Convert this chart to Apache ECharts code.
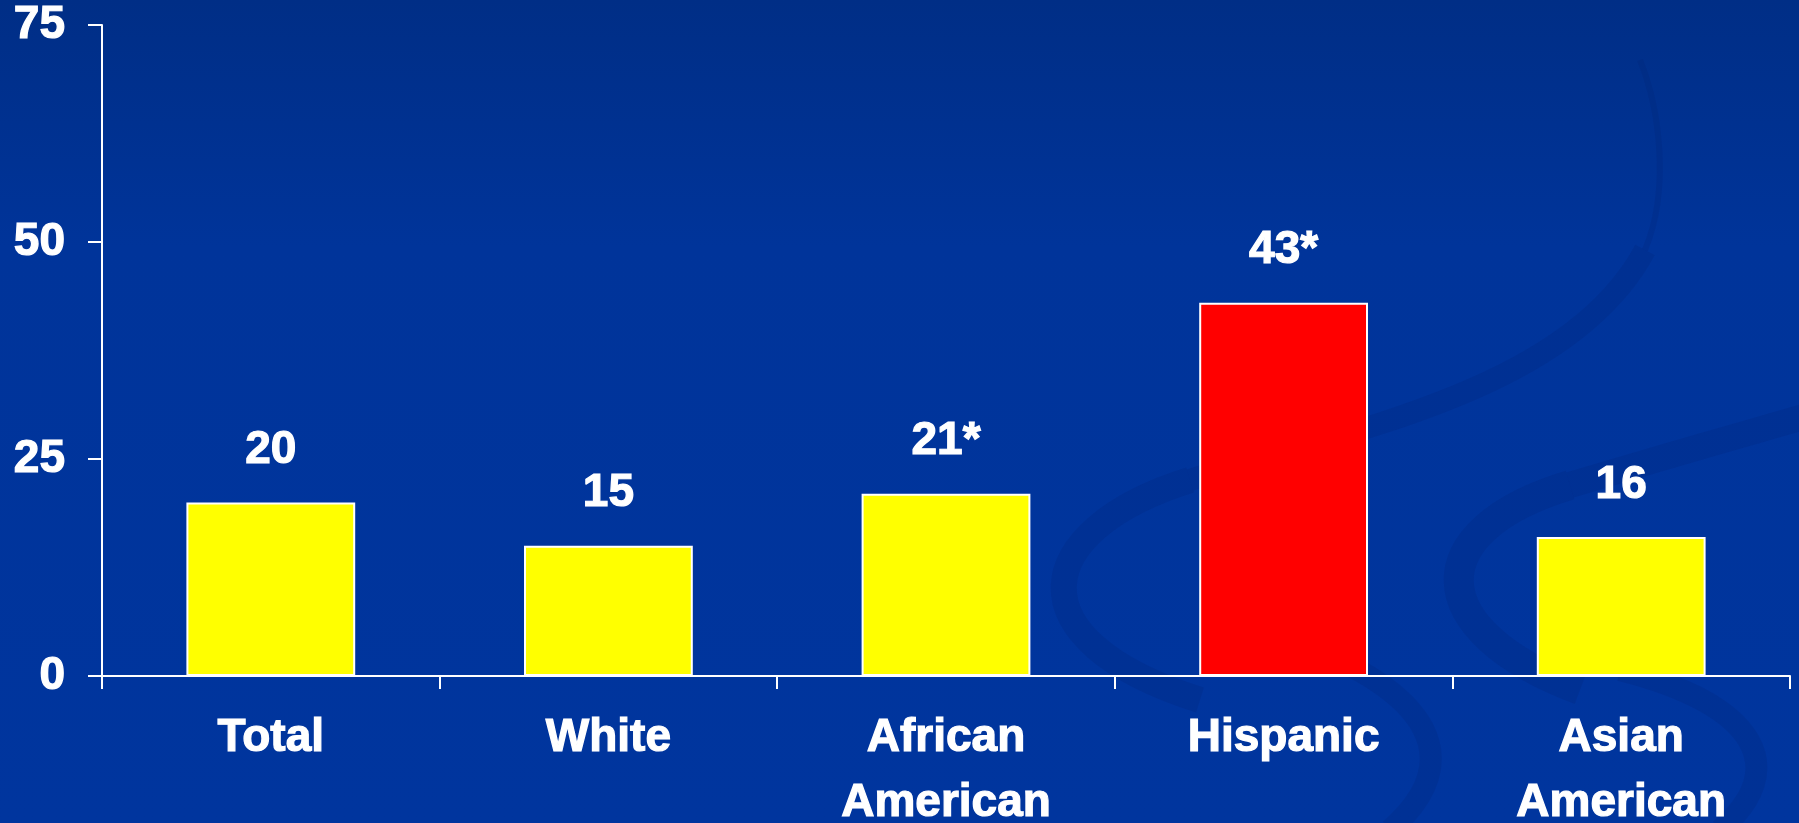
<!DOCTYPE html>
<html>
<head>
<meta charset="utf-8">
<style>
html,body{margin:0;padding:0;width:1799px;height:823px;overflow:hidden;background:#0033a0;}
#chart{width:1799px;height:823px;}
</style>
<script src="https://cdn.jsdelivr.net/npm/echarts@6/dist/echarts.min.js"></script>
</head>
<body>
<div id="chart"></div>
<script>
const categories = ['Total', 'White', 'African\nAmerican', 'Hispanic', 'Asian\nAmerican'];
const values = [20, 15, 21, 43, 16];
const labelMarks = ['', '', '*', '*', ''];
const barColors = ['#FFFF00', '#FFFF00', '#FFFF00', '#FF0000', '#FFFF00'];
const yTicks = [0, 25, 50, 75];

const chart = echarts.init(document.getElementById('chart'), null, {renderer: 'canvas'});
const font = '"Liberation Sans", Arial, sans-serif';
const txt = {color: '#ffffff', fontFamily: font, fontWeight: 'bold', fontSize: 46, textBorderColor: '#ffffff', textBorderWidth: 1.2};
const swoosh = 'rgba(0, 25, 100, 0.14)';
function curve(p, w) {
  return {type: 'bezierCurve', z: -1, silent: true,
    shape: {x1: p[0], y1: p[1], cpx1: p[2], cpy1: p[3], cpx2: p[4], cpy2: p[5], x2: p[6], y2: p[7]},
    style: {fill: null, stroke: swoosh, lineWidth: w}};
}
chart.setOption({
  backgroundColor: {
    type: 'linear', x: 0, y: 0, x2: 0, y2: 1,
    colorStops: [{offset: 0, color: '#002e86'}, {offset: 0.3, color: '#00349a'}, {offset: 1, color: '#00359e'}]
  },
  animation: false,
  graphic: [
    curve([1200, 700, 1010, 640, 1030, 530, 1190, 480], 26),
    curve([1190, 480, 1350, 430, 1570, 390, 1645, 250], 22),
    curve([1645, 250, 1670, 190, 1660, 110, 1640, 60], 6),
    curve([1580, 690, 1420, 630, 1420, 530, 1570, 485], 30),
    curve([1570, 485, 1720, 440, 1760, 430, 1810, 415], 26),
    curve([1290, 640, 1430, 690, 1470, 760, 1390, 830], 22),
    curve([1620, 670, 1760, 705, 1790, 770, 1720, 830], 22)
  ],
  grid: {left: 102, right: 9, top: 25, bottom: 147, containLabel: false, outerBoundsMode: 'none'},
  xAxis: {
    type: 'category',
    data: categories,
    axisLine: {lineStyle: {color: '#ffffff', width: 2}},
    axisTick: {show: true, length: 13, lineStyle: {color: '#ffffff', width: 2}},
    axisLabel: Object.assign({}, txt, {lineHeight: 65, margin: 30})
  },
  yAxis: {
    type: 'value',
    min: yTicks[0], max: yTicks[yTicks.length - 1], interval: 25,
    axisLine: {show: true, lineStyle: {color: '#ffffff', width: 2}},
    axisTick: {show: true, length: 14, lineStyle: {color: '#ffffff', width: 2}},
    splitLine: {show: false},
    axisLabel: Object.assign({}, txt, {margin: 37})
  },
  series: [{
    type: 'bar',
    barWidth: '50%',
    data: values.map((v, i) => ({value: v, itemStyle: {color: barColors[i]}})),
    itemStyle: {borderColor: '#ffffff', borderWidth: 2},
    label: Object.assign({show: true, position: 'top', distance: 29,
      formatter: p => p.value + labelMarks[p.dataIndex]}, txt)
  }]
});
</script>
</body>
</html>
